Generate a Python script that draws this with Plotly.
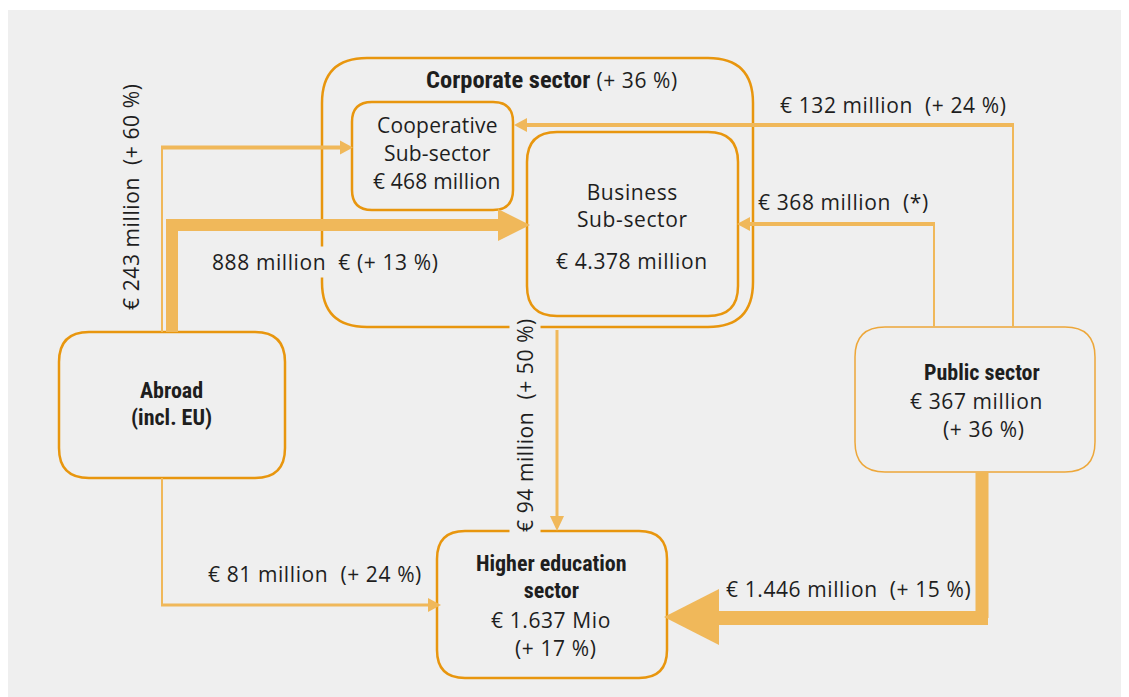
import plotly.graph_objects as go

# node labels (title, detail lines)
node_names = ["Corporate sector", "Cooperative Sub-sector", "Business Sub-sector",
              "Abroad (incl. EU)", "Public sector", "Higher education sector"]
corporate_growth = "(+ 36 %)"
cooperative_value = "€ 468 million"
business_value = "€ 4.378 million"
public_value = ["€ 367 million", "(+ 36 %)"]
higher_ed_value = ["€ 1.637 Mio", "(+ 17 %)"]

# flow labels
flow_labels = [
    "€ 243 million  (+ 60 %)",
    "888 million  € (+ 13 %)",
    "€ 132 million  (+ 24 %)",
    "€ 368 million  (*)",
    "€ 94 million  (+ 50 %)",
    "€ 81 million  (+ 24 %)",
    "€ 1.446 million  (+ 15 %)",
]

BG = '#EFEFEF'
BORDER = '#E8960E'
ARROW = '#F0B85A'
TXT = '#1E1E1E'
FONT = "'Open Sans', Lato, sans-serif"
BOLD = "'Liberation Sans Narrow', 'Roboto Condensed', 'DejaVu Sans Condensed', Roboto, sans-serif"


def rrect(x0, y0, x1, y1, r):
    return (f"M{x0+r},{y0} L{x1-r},{y0} Q{x1},{y0} {x1},{y0+r} L{x1},{y1-r} "
            f"Q{x1},{y1} {x1-r},{y1} L{x0+r},{y1} Q{x0},{y1} {x0},{y1-r} "
            f"L{x0},{y0+r} Q{x0},{y0} {x0+r},{y0} Z")


fig = go.Figure()
shapes = []

# grey panel
shapes.append(dict(type='rect', x0=8, y0=10, x1=1140, y1=710, fillcolor=BG, line_width=0, layer='below'))

# boxes
boxes = [
    (322, 58, 753, 327, 45, 2.5, BORDER),   # corporate
    (352, 102, 513, 210, 20, 2.5, BORDER),  # cooperative
    (527, 132, 738, 316, 30, 2.5, BORDER),  # business
    (59, 332, 285, 478, 30, 2.5, BORDER),   # abroad
    (855, 327, 1095, 472, 30, 1.5, '#EDA73A'),  # public
    (437, 531, 667, 678, 28, 2.5, BORDER),  # higher education
]
for x0, y0, x1, y1, r, w, c in boxes:
    shapes.append(dict(type='path', path=rrect(x0, y0, x1, y1, r), line=dict(color=c, width=w)))


def seg(pts, w):
    for (xa, ya), (xb, yb) in zip(pts[:-1], pts[1:]):
        shapes.append(dict(type='line', x0=xa, y0=ya, x1=xb, y1=yb, line=dict(color=ARROW, width=w)))


def head(tip, size, length, direction):
    x, y = tip
    if direction == 'right':
        p = f"M{x},{y} L{x-length},{y-size} L{x-length},{y+size} Z"
    elif direction == 'left':
        p = f"M{x},{y} L{x+length},{y-size} L{x+length},{y+size} Z"
    else:  # down
        p = f"M{x},{y} L{x-size},{y-length} L{x+size},{y-length} Z"
    shapes.append(dict(type='path', path=p, fillcolor=ARROW, line_width=0))


# 243 million: abroad -> cooperative
seg([(162, 332), (162, 147)], 2)
seg([(161, 147.5), (342, 147.5)], 4)
head((353, 147.5), 7, 13, 'right')

# 888 million: abroad -> business
seg([(172, 332), (172, 225)], 12)
seg([(166, 225), (500, 225)], 12)
head((530, 225), 16, 32, 'right')

# 132 million: public -> cooperative
seg([(1013, 327), (1013, 125)], 2)
seg([(1014, 125), (526, 125)], 4)
head((514, 125), 7, 13, 'left')

# 368 million: public -> business
seg([(934, 327), (934, 224)], 2)
seg([(935, 224), (749, 224)], 4)
head((737, 224), 7, 13, 'left')

# 94 million: business -> higher education
seg([(557, 330), (557, 516)], 3)
head((557, 531), 7, 15, 'down')

# 81 million: abroad -> higher education
seg([(162, 478), (162, 605)], 2)
seg([(161, 605), (428, 605)], 3)
head((441, 605), 7, 13, 'right')

# 1.446 million: public -> higher education
seg([(982, 472), (982, 618)], 13)
seg([(988, 618), (716, 618)], 14)
head((664, 617), 28, 55, 'left')

anns = []


def txt(x, y, s, size=21, angle=0, bg=None, spacing=0.6):
    a = dict(x=x, y=y, text=f"<span style=\"letter-spacing:{spacing}px\">{s}</span>", showarrow=False,
             textangle=angle, font=dict(family=FONT, size=size, color=TXT),
             xanchor='center', yanchor='middle')
    if bg:
        a['bgcolor'] = bg
    anns.append(a)


def bold(s, size=22):
    return f"<span style=\"font-family:{BOLD};font-weight:bold;font-size:{size}px;letter-spacing:0px\">{s}</span>"


txt(552, 79, bold(node_names[0], 24.5) + " " + corporate_growth)
txt(437, 125, "Cooperative", spacing=0.2)
txt(437, 153, "Sub-sector", spacing=0.2)
txt(437, 181, cooperative_value, spacing=0.2)
txt(632, 205, "Business<br>Sub-sector")
txt(632, 261, business_value)
txt(171, 404, bold("Abroad") + "<br>" + bold("(incl. EU)"))
txt(982, 372, bold(node_names[4]))
txt(976, 401, public_value[0])
txt(983, 429, public_value[1])
txt(551, 577, bold("Higher education") + "<br>" + bold("sector"))
txt(551, 620, higher_ed_value[0])
txt(555, 648, higher_ed_value[1])

txt(131, 197, flow_labels[0], angle=-90)
txt(325, 262, flow_labels[1], bg=BG)
txt(893, 105, flow_labels[2])
txt(843, 202, flow_labels[3])
txt(525, 425, flow_labels[4], angle=-90, bg=BG)
txt(315, 574, flow_labels[5])
txt(848, 589, flow_labels[6])

# the page puts the plot 8px in from the corner, so the data window is shifted to match
fig.update_layout(
    width=1129, height=697,
    margin=dict(l=0, r=0, t=0, b=0),
    paper_bgcolor='white', plot_bgcolor='white',
    xaxis=dict(range=[8, 1137], visible=False, fixedrange=True),
    yaxis=dict(range=[705, 8], visible=False, fixedrange=True),
    shapes=shapes, annotations=anns, showlegend=False,
)
fig.write_html("out.html")
